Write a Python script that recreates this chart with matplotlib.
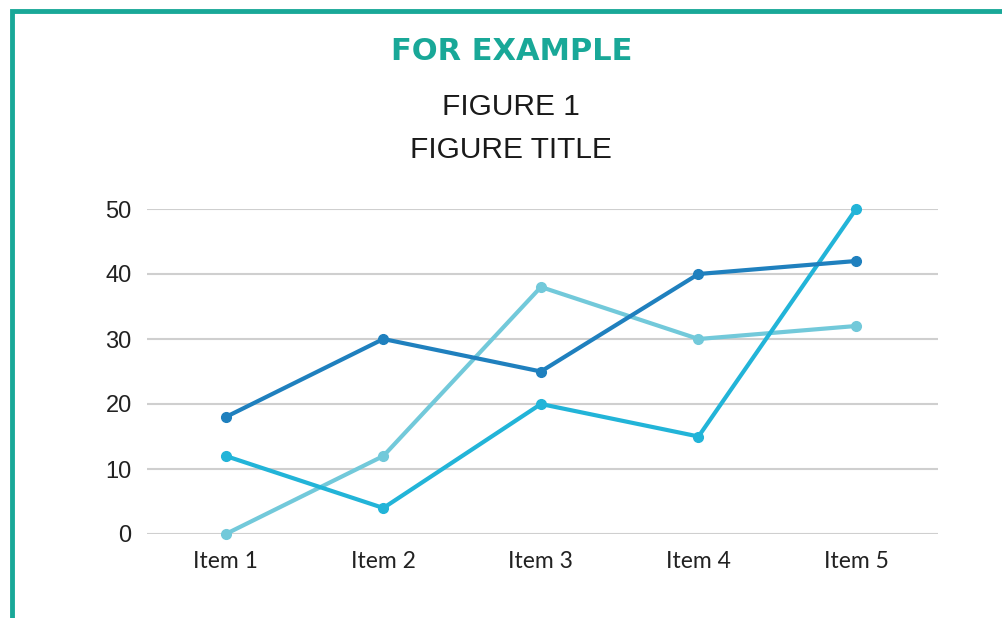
import matplotlib.pyplot as plt
from matplotlib.patches import Rectangle

items = ['Item 1', 'Item 2', 'Item 3', 'Item 4', 'Item 5']
series_a = [18, 30, 25, 40, 42]
series_b = [12, 4, 20, 15, 50]
series_c = [0, 12, 38, 30, 32]
yticks = [0, 10, 20, 30, 40, 50]

colors = ['#1F80BE', '#22B4D8', '#72C9DA']

fig = plt.figure(figsize=(10.03, 6.18), dpi=100)

# teal frame, running off the right and bottom edges
fig.patches.append(Rectangle((12 / 1003, -0.1), 1.2, 1 - 11 / 618 + 0.1,
                             transform=fig.transFigure, fill=False,
                             edgecolor='#19A898', lw=3.5))

fig.text(0.510, 1 - 51 / 618, 'FOR EXAMPLE', ha='center', va='center',
         fontsize=22, fontweight='bold', color='#19A898', family='DejaVu Sans')
fig.text(0.509, 1 - 107 / 618, 'FIGURE 1', ha='center', va='center',
         fontsize=21.5, color='#1a1a1a', family='Liberation Sans')
fig.text(0.509, 1 - 150 / 618, 'FIGURE TITLE', ha='center', va='center',
         fontsize=21.5, color='#1a1a1a', family='Liberation Sans')

ax = fig.add_axes([147 / 1003, 1 - 534 / 618, (938 - 147) / 1003, (534 - 209) / 618])
x = range(len(items))
for ys, c in zip([series_c, series_b, series_a], colors[::-1]):
  ax.plot(x, ys, color=c, lw=3, marker='o', ms=7, solid_joinstyle='round')

ax.set_xlim(-0.5, 4.52)
ax.set_ylim(0, 50)
ax.set_yticks(yticks)
ax.set_xticks(list(x))
ax.set_xticklabels(items)
ax.yaxis.grid(True, color='#cfcfcf', lw=1.5)
ax.set_axisbelow(True)
for s in ax.spines.values():
  s.set_visible(False)
ax.tick_params(length=0, labelcolor='#222222')
ax.tick_params(axis='y', pad=11, labelsize=17)
ax.tick_params(axis='x', pad=12, labelsize=16.5)
for lab in ax.get_xticklabels():
  lab.set_family('Lato')
for lab in ax.get_yticklabels():
  lab.set_family('Liberation Sans')
for line in ax.get_lines():
  line.set_clip_on(False)

fig.savefig('out.png', dpi=100)
